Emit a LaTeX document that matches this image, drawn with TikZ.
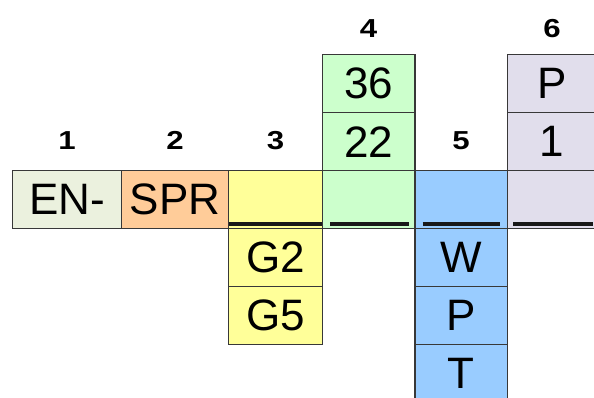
\documentclass[tikz,border=0pt]{standalone}
\usepackage{fontspec}
\setmainfont{Liberation Sans}
\definecolor{cA}{HTML}{EBF1DE}
\definecolor{cB}{HTML}{FFCC99}
\definecolor{cC}{HTML}{FFFF99}
\definecolor{cD}{HTML}{CCFFCC}
\definecolor{cE}{HTML}{99CCFF}
\definecolor{cF}{HTML}{E1DEEC}
\definecolor{bord}{HTML}{383838}
\tikzset{
  cell/.style={draw=bord, line width=1.2pt, inner sep=0pt, outer sep=0pt,
    minimum height=58pt, font=\fontsize{44}{48}\selectfont},
  hdr/.style={inner sep=0pt, xscale=1.2, transform shape, font=\bfseries\fontsize{26}{30}\selectfont},
  uline/.style={line width=4pt, black!90},
}
\begin{document}
\begin{tikzpicture}[x=1pt,y=1pt]
\useasboundingbox (0,0) rectangle (594,398);
\clip (0,0) rectangle (594,398);
% main row
\node[cell, fill=cA, minimum width=108.6pt] (m1) at (67,198.3) {EN-};
\node[cell, fill=cB, minimum width=107.4pt] (m2) at (175,198.3) {SPR};
\node[cell, fill=cC, minimum width=93.6pt] (m3) at (275.5,198.3) {};
\node[cell, fill=cD, minimum width=92.7pt] (m4) at (368.65,198.3) {};
\node[cell, fill=cE, minimum width=92.3pt] (m5) at (461.15,198.3) {};
\node[cell, fill=cF, minimum width=90pt] (m6) at (552.15,198.3) {};
% column 3 below
\node[cell, fill=cC, minimum width=93.6pt] (g2) at (275.5,140.3) {G2};
\node[cell, fill=cC, minimum width=93.6pt] (g5) at (275.5,82.3) {G5};
% column 4 above
\node[cell, fill=cD, minimum width=92.7pt] (n22) at (368.65,256.3) {22};
\node[cell, fill=cD, minimum width=92.7pt] (n36) at (368.65,314.3) {36};
% column 5 below
\node[cell, fill=cE, minimum width=92.3pt] (w) at (461.15,140.3) {W};
\node[cell, fill=cE, minimum width=92.3pt] (p5) at (461.15,82.3) {P};
\node[cell, fill=cE, minimum width=92.3pt] (t) at (461.15,24.3) {T};
% column 6 above
\node[cell, fill=cF, minimum width=90pt] (one) at (552.15,256.3) {1};
\node[cell, fill=cF, minimum width=90pt] (p6) at (552.15,314.3) {P};
% headers
\node[hdr] (h1) at (67,257.8) {1};
\node[hdr] (h2) at (175,257.8) {2};
\node[hdr] (h3) at (275.5,257.8) {3};
\node[hdr] (h4) at (368.65,369.7) {4};
\node[hdr] (h5) at (461.15,257.8) {5};
\node[hdr] (h6) at (552.15,369.7) {6};
% blanks
\draw[uline] (229,173.5) -- (322,173.5);
\draw[uline] (330,173.5) -- (409,173.5);
\draw[uline] (422.7,173.5) -- (500,173.5);
\draw[uline] (513,173.5) -- (593,173.5);
\end{tikzpicture}
\end{document}
